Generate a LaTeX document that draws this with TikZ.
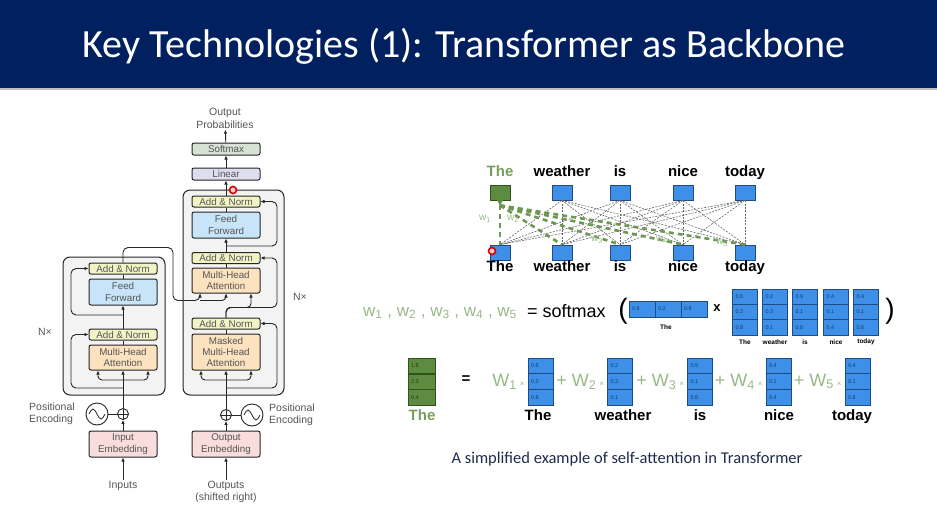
\documentclass[tikz,border=0pt]{standalone}
\usepackage{fontspec}
\setmainfont{Liberation Sans}
\newfontfamily\titlefont{Carlito}
\usetikzlibrary{arrows.meta,positioning,calc}
\definecolor{navybar}{HTML}{002060}
\definecolor{txtgrey}{HTML}{555555}
\definecolor{stackgrey}{HTML}{F3F3F3}
\definecolor{smaxfill}{HTML}{D6E2D4}
\definecolor{linfill}{HTML}{DEDEF0}
\definecolor{anfill}{HTML}{F2F4C6}
\definecolor{fffill}{HTML}{C7E4F8}
\definecolor{mhafill}{HTML}{FCE2BE}
\definecolor{embfill}{HTML}{F9DCDC}
\definecolor{cellblue}{HTML}{3D8FE8}
\definecolor{cellline}{HTML}{1D4C86}
\definecolor{gfill}{HTML}{5D8B3F}
\definecolor{gline}{HTML}{34521F}
\definecolor{greentxt}{HTML}{78A05B}
\definecolor{wgreen}{HTML}{98B887}
\definecolor{capnavy}{HTML}{1F2B4D}
\newcommand{\fsz}[2]{\fontsize{#1}{#2}\selectfont}

\begin{document}
\begin{tikzpicture}[x=1pt, y=-1pt,
 blk/.style={draw=black!85, line width=1pt, rounded corners=2pt, minimum width=68pt, inner sep=0pt, align=center, text=txtgrey, font=\fsz{9.8}{11.3}},
 stack/.style={draw=black!85, line width=1pt, rounded corners=7pt, fill=stackgrey},
 arrow/.style={-{Latex[length=4pt,width=3.6pt]}, line width=0.9pt, black!85},
 link/.style={line width=0.9pt, black!85},
 lbl/.style={text=txtgrey, font=\fsz{10.5}{12.5}, align=left, inner sep=1pt},
 plus/.style={circle, draw=black!85, line width=0.9pt, minimum size=11pt, inner sep=0pt, path picture={\draw[line width=0.8pt] (path picture bounding box.north) -- (path picture bounding box.south) (path picture bounding box.west) -- (path picture bounding box.east);}},
 sine/.style={circle, draw=black!85, line width=0.9pt, minimum size=22pt, inner sep=0pt, path picture={\draw[line width=0.8pt] ($(path picture bounding box.center)+(-8,0)$) sin ++(4,-5) cos ++(4,5) sin ++(4,5) cos ++(4,-5);}},
 sq/.style={draw=cellline, fill=cellblue, line width=0.7pt, minimum width=20pt, minimum height=15pt, inner sep=0pt},
 gsq/.style={draw=gline, fill=gfill, line width=0.7pt, minimum width=20pt, minimum height=15pt, inner sep=0pt},
 word/.style={font=\bfseries\fsz{15}{16}, inner sep=0pt, anchor=base},
 tiny/.style={font=\bfseries\fsz{6.5}{7}, inner sep=0pt},
 mcell/.style={draw=cellline, fill=cellblue, line width=0.7pt, minimum height=15.4pt, text width=19pt, inner xsep=3pt, inner ysep=0pt, align=left, font=\fsz{5.5}{6}, text=cellline!80!black},
 gcell/.style={mcell, draw=gline, fill=gfill, text=gline!70!black, text width=21pt},
 dots/.style={dash pattern=on 2pt off 1.3pt, line width=0.6pt, black!60},
 gdash/.style={line width=2.6pt, dash pattern=on 5pt off 4pt, gfill!90},
 wl/.style={text=wgreen, font=\fsz{10}{10}, inner sep=0pt},
 term/.style={text=wgreen, font=\fsz{18}{18}, inner sep=0pt, anchor=east},
 pointer/.style={circle, draw=red!85!black, line width=1.6pt, fill=red!20, minimum size=7pt, inner sep=0pt}]
\useasboundingbox (0,0) rectangle (937,519);
% title bar
\fill[navybar] (0,0) rectangle (937,88);
\fill[black!25] (0,88) rectangle (937,90);
\node[font=\titlefont\fsz{40}{44}, text=white] (title) at (464,46) {Key Technologies (1): Transformer as Backbone};

% encoder / decoder stacks
\node[stack, minimum width=102pt, minimum height=138pt] (estack) at (114,326) {};
\node[stack, minimum width=101pt, minimum height=205pt] (dstack) at (233.5,292.5) {};

% encoder
\node[blk, fill=anfill, minimum height=11pt] (ean2) at (123,268.5) {Add \& Norm};
\node[blk, fill=fffill, minimum height=26pt] (eff) at (123,292) {Feed\\Forward};
\node[blk, fill=anfill, minimum height=11pt] (ean1) at (123,334.5) {Add \& Norm};
\node[blk, fill=mhafill, minimum height=25pt] (emha) at (123,357.5) {Multi-Head\\Attention};
\node[plus] (eplus) at (123,414) {};
\node[sine] (esine) at (97,414) {};
\node[blk, fill=embfill, minimum height=26pt] (inemb) at (123,444) {Input\\Embedding};
\node[lbl] (ins) at (123,486) {Inputs};
\node[lbl, anchor=west] (epos) at (28,414) {Positional\\Encoding};
\node[lbl] (enx) at (45,332) {N×};

% decoder
\node[blk, fill=smaxfill, minimum height=12pt] (smax) at (226,149) {Softmax};
\node[blk, fill=linfill, minimum height=12pt] (lin) at (226,174) {Linear};
\node[blk, fill=anfill, minimum height=11pt] (dan3) at (226,201.5) {Add \& Norm};
\node[blk, fill=fffill, minimum height=26pt] (dff) at (226,225) {Feed\\Forward};
\node[blk, fill=anfill, minimum height=11pt] (dan2) at (226,258) {Add \& Norm};
\node[blk, fill=mhafill, minimum height=25pt] (dmha) at (226,280.5) {Multi-Head\\Attention};
\node[blk, fill=anfill, minimum height=11pt] (dan1) at (226,323.5) {Add \& Norm};
\node[blk, fill=mhafill, minimum height=36pt] (dmmha) at (226,352) {Masked\\Multi-Head\\Attention};
\node[plus] (dplus) at (226,415) {};
\node[sine] (dsine) at (252,415) {};
\node[blk, fill=embfill, minimum height=26pt] (outemb) at (226,444) {Output\\Embedding};
\node[lbl, align=center] (outs) at (226,492) {Outputs\\(shifted right)};
\node[lbl, align=center] (outprob) at (225,118.5) {Output\\Probabilities};
\node[lbl, anchor=west] (dpos) at (268,415) {Positional\\Encoding};
\node[lbl] (dnx) at (300,297) {N×};

\coordinate (ebr1) at (123,388); \coordinate (ebr2) at (123,380); \coordinate (ebr3) at (123,315);
\coordinate (dbr1) at (226,388); \coordinate (dbr2) at (226,380); \coordinate (dbr3) at (226,246);
% encoder connectors
\draw[arrow] (ins) -- (inemb); \draw[arrow] (inemb) -- (eplus); \draw[link] (esine) -- (eplus); \draw[arrow] (eplus) -- (emha);
\draw[arrow, rounded corners=4pt] (ebr2) -| ($(emha.south)+(-25,0)$); \draw[arrow, rounded corners=4pt] (ebr2) -| ($(emha.south)+(25,0)$);
\draw[arrow, rounded corners=5pt] (ebr1) -- ++(-52,0) |- (ean1.west);
\draw[link] (emha) -- (ean1); \draw[arrow] (ean1) -- (eff);
\draw[arrow, rounded corners=5pt] (ebr3) -- ++(-52,0) |- (ean2.west);
\draw[link] (eff) -- (ean2);
\draw[arrow, rounded corners=5pt] (ean2.north) -- ++(0,-15) -| ($(dmha.south)+(-53,7)$) -| ($(dmha.south)+(-26,0)$);
\draw[arrow, rounded corners=4pt] ($(dmha.south)+(-26,7)$) -| (dmha.south);
% decoder connectors
\draw[arrow] (outs) -- (outemb); \draw[arrow] (outemb) -- (dplus); \draw[link] (dsine) -- (dplus); \draw[arrow] (dplus) -- (dmmha);
\draw[arrow, rounded corners=4pt] (dbr2) -| ($(dmmha.south)+(-25,0)$); \draw[arrow, rounded corners=4pt] (dbr2) -| ($(dmmha.south)+(25,0)$);
\draw[arrow, rounded corners=5pt] (dbr1) -- ++(51,0) |- (dan1.east);
\draw[link] (dmmha) -- (dan1);
\draw[arrow, rounded corners=4pt] (dan1.north) -- ++(0,-10) -| ($(dmha.south)+(25,0)$);
\draw[arrow, rounded corners=5pt] (dan1.north) -- ++(0,-10) -- ++(51,0) |- (dan2.east);
\draw[link] (dmha) -- (dan2); \draw[arrow] (dan2) -- (dff);
\draw[arrow, rounded corners=5pt] (dbr3) -- ++(51,0) |- (dan3.east);
\draw[link] (dff) -- (dan3); \draw[arrow] (dan3) -- (lin); \draw[arrow] (lin) -- (smax); \draw[arrow] (smax) -- (outprob);

% attention graph
\node[gsq] (t1) at (500,192.5) {};
\fill[gfill] ($(t1.south)+(-3,-0.3)$) -- ($(t1.south)+(3,-0.3)$) -- ($(t1.south)+(0,5)$) -- cycle;
\foreach \x [count=\i from 2] in {562,620,683,745} \node[sq] (t\i) at (\x,192.5) {};
\foreach \x [count=\i] in {500,562,620,683,745} \node[sq] (b\i) at (\x,252.5) {};
\node[word, text=greentxt] (lt1) at (500,176) {The};
\foreach \w/\x [count=\i from 2] in {weather/562,is/620,nice/683,today/745} \node[word] (lt\i) at (\x,176) {\w};
\foreach \w/\x [count=\i] in {The/500,weather/562,is/620,nice/683,today/745} \node[word] (lb\i) at (\x,271.5) {\w};
\foreach \i in {2,...,5} \foreach \j in {1,...,5} \draw[dots] (t\i.south) -- (b\j.north);
\foreach \j in {1,...,5} \draw[gdash] ($(t1.south)+(0,5)$) -- (b\j.north);
\node[wl] (w1) at (485,219) {w\textsubscript{1}}; \node[wl] (w2) at (513,219) {w\textsubscript{2}};
\node[wl] (w3) at (597,240) {w\textsubscript{3}}; \node[wl] (w4) at (662,240) {w\textsubscript{4}};
\node[wl] (w5) at (722,243) {w\textsubscript{5}};

% softmax row
\node[text=wgreen, font=\fsz{17}{17}, anchor=west, inner sep=0pt] (wlist) at (363,313) {w\textsubscript{1} , w\textsubscript{2} , w\textsubscript{3} , w\textsubscript{4} , w\textsubscript{5}};
\node[font=\fsz{18}{18}, anchor=west, inner sep=0pt] (smx) at (527,311) {= softmax};
\node[font=\fsz{28}{28}, inner sep=0pt] (lp) at (623,311) {(};
\foreach \v [count=\i] in {0.6,0.2,0.8} \node[mcell, text width=20pt, minimum height=16pt] (q\i) at (629+26*\i-13,309) {\v};
\node[tiny] (ql) at (666,327) {The};
\node[font=\bfseries\fsz{13}{13}, inner sep=0pt] (times) at (717,308) {x};
\foreach \x/\a/\b/\c/\w [count=\i] in {745/0.6/0.2/0.8/The, 775/0.2/0.3/0.1/weather, 805/0.9/0.1/0.8/is, 836/0.4/0.1/0.4/nice, 866/0.4/0.1/0.6/today} {
  \node[mcell] (m\i a) at (\x,296.7) {\a}; \node[mcell] (m\i b) at (\x,312.1) {\b}; \node[mcell] (m\i c) at (\x,327.5) {\c};
  \node[tiny] (ml\i) at (\x,342) {\w};
}
\node[font=\fsz{28}{28}, inner sep=0pt] (rp) at (890,311) {)};

% weighted sum row
\foreach \v [count=\i] in {1.8,2.3,0.4} \node[gcell] (g\i) at (421.5,358+15.7*\i-7.85) {\v};
\node[word, text=greentxt] (gl) at (422,420) {The};
\node[font=\bfseries\fsz{15}{15}, inner sep=0pt] (eq) at (466,380) {=};
\foreach \x/\a/\b/\c/\w/\lx [count=\i] in {540.5/0.6/0.2/0.8/The/538, 620/0.2/0.3/0.1/weather/623, 700/0.9/0.1/0.8/is/700, 778.5/0.4/0.1/0.4/nice/779, 857.5/0.4/0.1/0.6/today/852} {
  \node[mcell] (v\i a) at (\x,365.8) {\a}; \node[mcell] (v\i b) at (\x,381.5) {\b}; \node[mcell] (v\i c) at (\x,397.2) {\c};
  \node[word] (vl\i) at (\lx,420) {\w};
}
\node[term] (s1) at ($(v1b.west)+(-3,0)$) {W\textsubscript{1}\,{\fsz{8}{8}×}};
\foreach \i in {2,...,5} \node[term] (s\i) at ($(v\i b.west)+(-3,0)$) {+ W\textsubscript{\i}\,{\fsz{8}{8}×}};
\node[font=\titlefont\fsz{16.5}{18}, text=capnavy] (cap) at (627,459) {A simplified example of self-attention in Transformer};

% pointer marks
\node[pointer] (ptr1) at (233,190) {}; \node[pointer] (ptr2) at (492,251) {};
\end{tikzpicture}
\end{document}
